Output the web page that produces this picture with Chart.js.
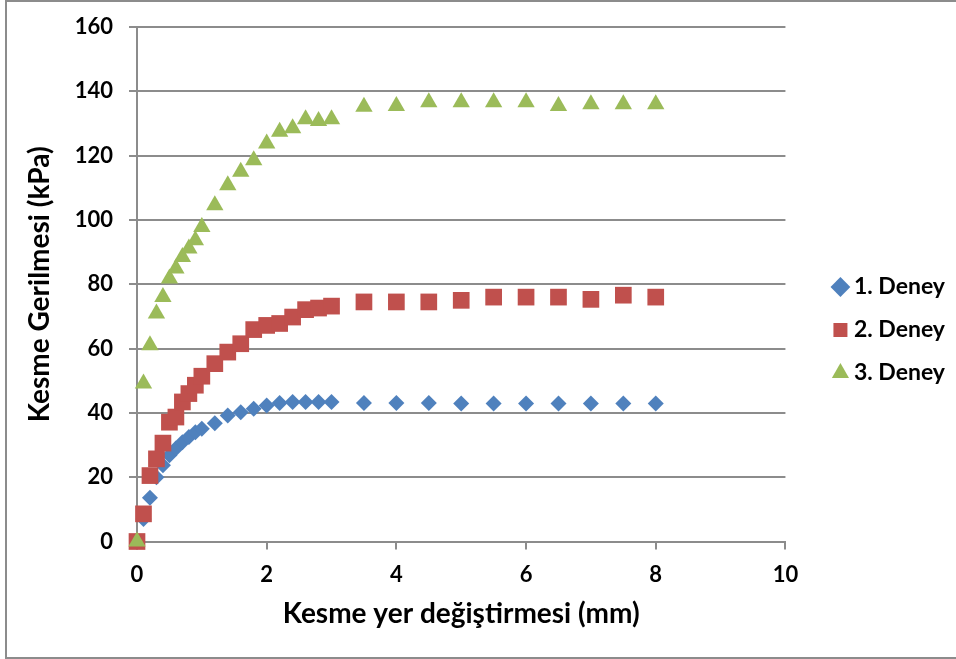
<!DOCTYPE html>
<html>
<head>
<meta charset="utf-8">
<script src="https://cdn.jsdelivr.net/npm/chart.js@4.4.0/dist/chart.umd.min.js"></script>
<style>
body { margin: 0; background: #fff; overflow: hidden; }
#frame { position: absolute; left: 5px; top: 0; width: 949px; height: 655px; border: 2px solid #8c8c8c; border-right: none; }
canvas { display: block; }
</style>
</head>
<body>
<div id="frame"><canvas id="myChart" width="949" height="655"></canvas></div>
<script>
// shear displacement (mm), same for all three tests
const displacement = [0, 0.1, 0.2, 0.3, 0.4, 0.5, 0.6, 0.7, 0.8, 0.9, 1.0, 1.2, 1.4, 1.6, 1.8, 2.0,
    2.2, 2.4, 2.6, 2.8, 3.0, 3.5, 4.0, 4.5, 5.0, 5.5, 6.0, 6.5, 7.0, 7.5, 8.0];

// shear stress (kPa)
const deney1 = [0, 7, 13.6, 20, 23.7, 26.8, 28.9, 30.9, 32.5, 34, 35.1, 36.8, 39.2, 40.2, 41.3, 42.3,
    43.1, 43.4, 43.4, 43.4, 43.4, 43.1, 43.1, 43.1, 42.9, 42.9, 42.9, 42.9, 42.9, 42.9, 42.9];
const deney2 = [0, 8.6, 20.5, 25.7, 30.6, 37.1, 38.7, 43.4, 46, 48.6, 51.4, 55.3, 58.9, 61.5, 65.9, 67.2,
    67.8, 69.8, 72.1, 72.6, 73.2, 74.5, 74.5, 74.5, 75, 76, 76, 76, 75.3, 76.6, 76];
const deney3 = [0, 49.1, 61, 70.9, 76, 81.8, 84.9, 88.5, 91.1, 93.7, 97.8, 104.6, 110.8, 115, 118.6, 123.8,
    127.4, 128.5, 131.3, 130.8, 131.3, 135.2, 135.4, 136.6, 136.6, 136.6, 136.6, 135.4, 136, 136, 136];

const seriesNames = ["1. Deney", "2. Deney", "3. Deney"];
const xTicks = [0, 2, 4, 6, 8, 10];
const yTicks = [0, 20, 40, 60, 80, 100, 120, 140, 160];

function toPoints(ys) {
    return displacement.map((x, i) => ({ x: x, y: ys[i] }));
}

const gridColor = '#8c8c8c';
const fontFamily = 'Lato, "Open Sans", sans-serif';

// move legend a bit right / up to sit like the original
const legendShift = {
    id: 'legendShift',
    afterLayout(chart) {
        const lg = chart.legend;
        lg.left += 33; lg.right += 33;
        lg.top -= 12; lg.bottom -= 12;
    }
};

const ctx = document.getElementById('myChart').getContext('2d');
const myChart = new Chart(ctx, {
    type: 'scatter',
    data: {
        datasets: [{
            label: seriesNames[0],
            data: toPoints(deney1),
            pointStyle: 'rectRot',
            pointRadius: 8,
            backgroundColor: '#4f81bd',
            borderWidth: 0,
            clip: false,
            order: 3
        }, {
            label: seriesNames[1],
            data: toPoints(deney2),
            pointStyle: 'rect',
            pointRadius: 11.8,
            backgroundColor: '#c0504d',
            borderWidth: 0,
            clip: false,
            order: 2
        }, {
            label: seriesNames[2],
            data: toPoints(deney3),
            pointStyle: 'triangle',
            pointRadius: 10,
            backgroundColor: '#9bbb59',
            borderWidth: 0,
            clip: false,
            order: 1
        }]
    },
    options: {
        responsive: false,
        animation: false,
        layout: { padding: { top: 25, right: 34, left: 0, bottom: 0 } },
        plugins: {
            tooltip: { enabled: false },
            legend: {
                position: 'right',
                labels: {
                    usePointStyle: true,
                    boxWidth: 4,
                    boxHeight: 14,
                    padding: 20,
                    color: '#000',
                    font: { family: fontFamily, size: 23, weight: 'bold' },
                    sort: (a, b) => a.datasetIndex - b.datasetIndex
                }
            }
        },
        scales: {
            x: {
                type: 'linear',
                min: xTicks[0],
                max: xTicks[xTicks.length - 1],
                afterBuildTicks: s => { s.ticks = xTicks.map(v => ({ value: v })); },
                afterFit: s => { s.height = 115.5; },
                border: { color: gridColor, width: 2 },
                grid: { drawOnChartArea: false, drawTicks: true, tickLength: 8, color: gridColor, lineWidth: 2 },
                ticks: { color: '#000', padding: 12, font: { family: fontFamily, size: 22, weight: 'bold' } },
                title: {
                    display: true,
                    text: 'Kesme yer değiştirmesi (mm)',
                    color: '#000',
                    padding: { top: 0, bottom: 26 },
                    font: { family: fontFamily, size: 28, weight: 'bold' }
                }
            },
            y: {
                min: yTicks[0],
                max: yTicks[yTicks.length - 1],
                afterBuildTicks: s => { s.ticks = yTicks.map(v => ({ value: v })); },
                afterFit: s => { s.width = 130; s.paddingTop = 0; s.paddingBottom = 0; },
                border: { color: gridColor, width: 2 },
                grid: { drawTicks: true, tickLength: 8, color: gridColor, lineWidth: 2 },
                ticks: { color: '#000', padding: 16, font: { family: fontFamily, size: 22, weight: 'bold' } },
                title: {
                    display: true,
                    text: 'Kesme Gerilmesi (kPa)',
                    color: '#000',
                    padding: { top: 16, bottom: 0 },
                    font: { family: fontFamily, size: 28, weight: 'bold' }
                }
            }
        }
    },
    plugins: [legendShift]
});
</script>
</body>
</html>
